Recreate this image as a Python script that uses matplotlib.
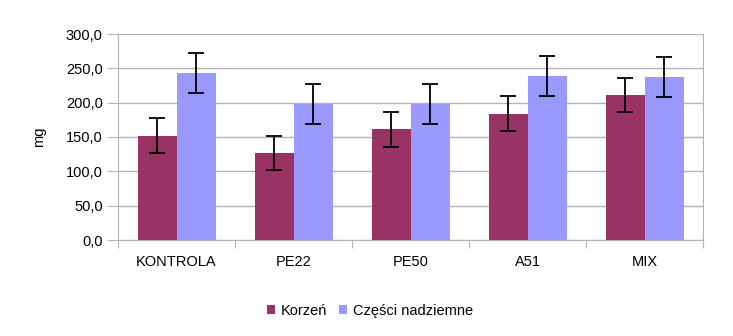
import matplotlib

matplotlib.use("Agg")
import matplotlib.pyplot as plt
import numpy as np

plt.rcParams["font.family"] = ["Liberation Sans", "DejaVu Sans"]

categories = ["KONTROLA", "PE22", "PE50", "A51", "MIX"]
korzen = [152, 127, 161, 184, 211]
korzen_err = [25, 25, 25, 25, 25]
czesci = [243, 198, 198, 239, 237]
czesci_err = [29, 29, 29, 29, 29]
y_ticks = [0, 50, 100, 150, 200, 250, 300]
y_tick_labels = ["0,0", "50,0", "100,0", "150,0", "200,0", "250,0", "300,0"]

fs = 10.5

fig = plt.figure(figsize=(7.33, 3.36), dpi=100)
ax = fig.add_axes([118 / 733, 96 / 336, 585 / 733, 206 / 336])

x = np.arange(len(categories))
width = 1 / 3
err_style = dict(ecolor="black", elinewidth=1.3, capsize=5.5, capthick=1.3)
ax.bar(x - width / 2, korzen, width, yerr=korzen_err, color="#993366",
       label="Korzeń", error_kw=err_style, zorder=3)
ax.bar(x + width / 2, czesci, width, yerr=czesci_err, color="#9999ff",
       label="Części nadziemne", error_kw=err_style, zorder=3)

ax.set_xlim(-0.5, len(categories) - 0.5)
ax.set_ylim(0, 300)
ax.set_yticks(y_ticks)
ax.set_yticklabels(y_tick_labels)
ax.yaxis.grid(True, color="#b3b3b3", linewidth=1)
ax.set_axisbelow(True)

ax.set_xticks(np.arange(len(categories) + 1) - 0.5)
ax.set_xticklabels([])
ax.set_xticks(x, minor=True)
ax.set_xticklabels(categories, minor=True)
ax.tick_params(axis="x", which="major", length=6, color="#b3b3b3")
ax.tick_params(axis="x", which="minor", length=0, pad=11, labelsize=fs)
ax.tick_params(axis="y", length=8, color="#b3b3b3", labelsize=fs, pad=3)

for side in ("left", "bottom", "right"):
    ax.spines[side].set_color("#b3b3b3")
ax.spines["top"].set_visible(False)

ax.set_ylabel("mg", fontsize=fs, labelpad=14)

fig.legend(loc="center", bbox_to_anchor=(370 / 733, 1 - 311 / 336), ncol=2,
           frameon=False, fontsize=fs, handlelength=0.55, handleheight=0.55,
           handletextpad=0.4, columnspacing=0.8)

fig.savefig("out.png", dpi=100)
